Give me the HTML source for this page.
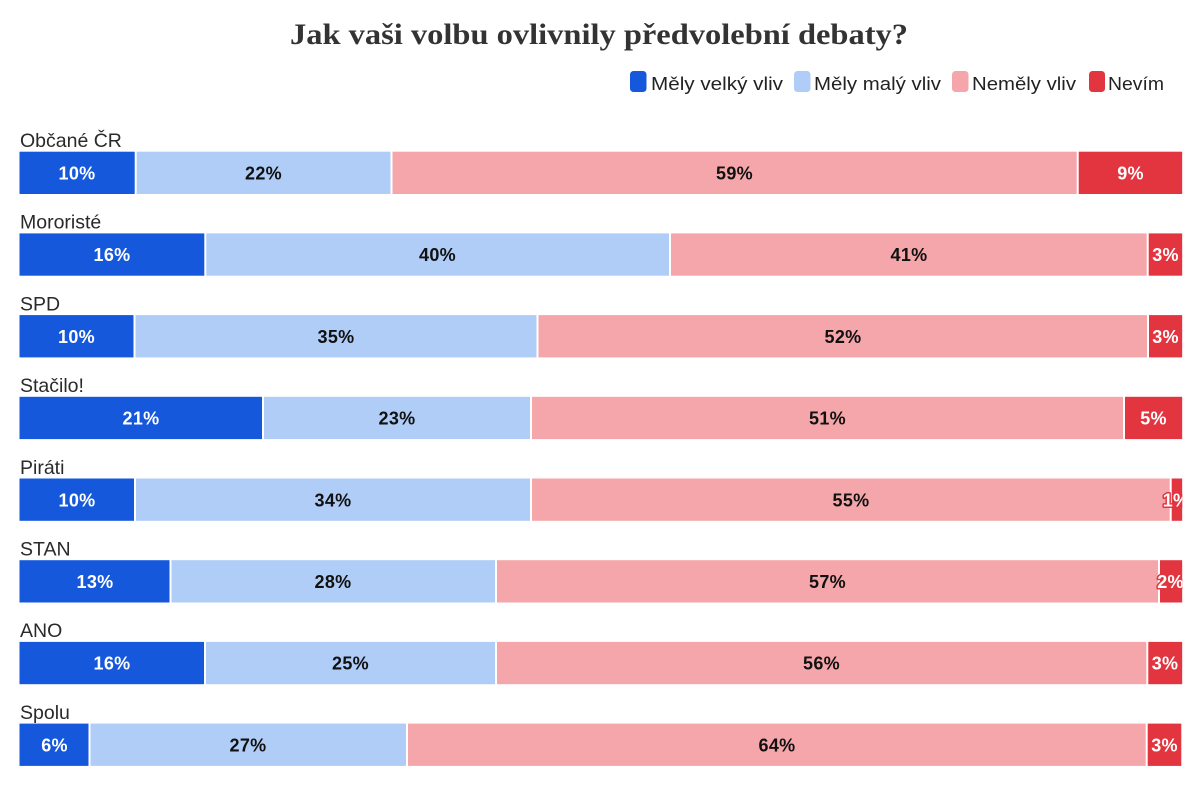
<!DOCTYPE html>
<html>
<head>
<meta charset="utf-8">
<style>
html,body{margin:0;padding:0;background:#fff;}
svg{display:block;}
.lab{font-family:"Liberation Sans",sans-serif;font-size:19.5px;fill:#2a2a2a;}
.leg{font-family:"Liberation Sans",sans-serif;font-size:18.5px;fill:#222;}
.pv{font-family:"Liberation Sans",sans-serif;font-size:18px;font-weight:bold;text-anchor:middle;letter-spacing:0.3px;}
.w{fill:#fff;}
.k{fill:#111;}
.r{fill:#fff;stroke:#e2353f;stroke-width:3px;paint-order:stroke;stroke-linejoin:round;}
</style>
</head>
<body>
<svg width="1200" height="800" viewBox="0 0 1200 800" xmlns="http://www.w3.org/2000/svg">
<defs>
<clipPath id="c"><rect x="0" y="0" width="1182.3" height="800"/></clipPath>
</defs>
<text x="599" y="44" text-anchor="middle" font-family="'Liberation Serif',serif" font-weight="bold" font-size="30" fill="#333" textLength="618" lengthAdjust="spacingAndGlyphs">Jak vaši volbu ovlivnily předvolební debaty?</text>

<rect x="630" y="71" width="16.5" height="21" rx="3.5" fill="#1558dc"/>
<text class="leg" x="651" y="90" textLength="132" lengthAdjust="spacingAndGlyphs">Měly velký vliv</text>
<rect x="794" y="71" width="16.5" height="21" rx="3.5" fill="#afcdf7"/>
<text class="leg" x="814" y="90" textLength="127" lengthAdjust="spacingAndGlyphs">Měly malý vliv</text>
<rect x="952" y="71" width="16.5" height="21" rx="3.5" fill="#f5a6aa"/>
<text class="leg" x="972" y="90" textLength="104" lengthAdjust="spacingAndGlyphs">Neměly vliv</text>
<rect x="1089" y="71" width="16" height="21" rx="3.5" fill="#e2353f"/>
<text class="leg" x="1108" y="90" textLength="56" lengthAdjust="spacingAndGlyphs">Nevím</text>

<g id="bars" clip-path="url(#c)">
<!-- Row 1 -->
<text class="lab" x="20" y="147">Občané ČR</text>
<rect x="19.5" y="151.7" width="115.2" height="42.3" fill="#1558dc"/>
<rect x="136.7" y="151.7" width="253.8" height="42.3" fill="#afcdf7"/>
<rect x="392.5" y="151.7" width="684.2" height="42.3" fill="#f5a6aa"/>
<rect x="1078.7" y="151.7" width="103.6" height="42.3" fill="#e2353f"/>
<text class="pv w" x="77" y="179.5">10%</text>
<text class="pv k" x="263.5" y="179.5">22%</text>
<text class="pv k" x="734.5" y="179.5">59%</text>
<text class="pv r" x="1130.5" y="179.5">9%</text>

<!-- Row 2 -->
<text class="lab" x="20" y="228.7">Mororisté</text>
<rect x="19.5" y="233.4" width="184.8" height="42.3" fill="#1558dc"/>
<rect x="206.3" y="233.4" width="462.7" height="42.3" fill="#afcdf7"/>
<rect x="671" y="233.4" width="475.7" height="42.3" fill="#f5a6aa"/>
<rect x="1148.7" y="233.4" width="33.6" height="42.3" fill="#e2353f"/>
<text class="pv w" x="112" y="261.2">16%</text>
<text class="pv k" x="437.5" y="261.2">40%</text>
<text class="pv k" x="909" y="261.2">41%</text>
<text class="pv r" x="1165.5" y="261.2">3%</text>

<!-- Row 3 -->
<text class="lab" x="20" y="310.4">SPD</text>
<rect x="19.5" y="315.1" width="114" height="42.3" fill="#1558dc"/>
<rect x="135.5" y="315.1" width="401" height="42.3" fill="#afcdf7"/>
<rect x="538.5" y="315.1" width="608.5" height="42.3" fill="#f5a6aa"/>
<rect x="1149" y="315.1" width="33.3" height="42.3" fill="#e2353f"/>
<text class="pv w" x="76.5" y="342.9">10%</text>
<text class="pv k" x="336" y="342.9">35%</text>
<text class="pv k" x="843" y="342.9">52%</text>
<text class="pv r" x="1165.5" y="342.9">3%</text>

<!-- Row 4 -->
<text class="lab" x="20" y="392.1">Stačilo!</text>
<rect x="19.5" y="396.8" width="242.5" height="42.3" fill="#1558dc"/>
<rect x="264" y="396.8" width="266" height="42.3" fill="#afcdf7"/>
<rect x="532" y="396.8" width="591" height="42.3" fill="#f5a6aa"/>
<rect x="1125" y="396.8" width="57.3" height="42.3" fill="#e2353f"/>
<text class="pv w" x="141" y="424.6">21%</text>
<text class="pv k" x="397" y="424.6">23%</text>
<text class="pv k" x="827.5" y="424.6">51%</text>
<text class="pv r" x="1153.5" y="424.6">5%</text>

<!-- Row 5 -->
<text class="lab" x="20" y="473.8">Piráti</text>
<rect x="19.5" y="478.5" width="114.5" height="42.3" fill="#1558dc"/>
<rect x="136" y="478.5" width="394" height="42.3" fill="#afcdf7"/>
<rect x="532" y="478.5" width="637.7" height="42.3" fill="#f5a6aa"/>
<rect x="1171.7" y="478.5" width="10.6" height="42.3" fill="#e2353f"/>
<text class="pv w" x="77" y="506.3">10%</text>
<text class="pv k" x="333" y="506.3">34%</text>
<text class="pv k" x="851" y="506.3">55%</text>
<text class="pv r" x="1176" y="506.3">1%</text>

<!-- Row 6 -->
<text class="lab" x="20" y="555.5">STAN</text>
<rect x="19.5" y="560.2" width="150" height="42.3" fill="#1558dc"/>
<rect x="171.5" y="560.2" width="323.5" height="42.3" fill="#afcdf7"/>
<rect x="497" y="560.2" width="661" height="42.3" fill="#f5a6aa"/>
<rect x="1160" y="560.2" width="22.3" height="42.3" fill="#e2353f"/>
<text class="pv w" x="95" y="588">13%</text>
<text class="pv k" x="333" y="588">28%</text>
<text class="pv k" x="827.5" y="588">57%</text>
<text class="pv r" x="1170.5" y="588">2%</text>

<!-- Row 7 -->
<text class="lab" x="20" y="637.2">ANO</text>
<rect x="19.5" y="641.9" width="184.5" height="42.3" fill="#1558dc"/>
<rect x="206" y="641.9" width="289" height="42.3" fill="#afcdf7"/>
<rect x="497" y="641.9" width="649.3" height="42.3" fill="#f5a6aa"/>
<rect x="1148.3" y="641.9" width="34" height="42.3" fill="#e2353f"/>
<text class="pv w" x="112" y="669.7">16%</text>
<text class="pv k" x="350.5" y="669.7">25%</text>
<text class="pv k" x="821.5" y="669.7">56%</text>
<text class="pv r" x="1165" y="669.7">3%</text>

<!-- Row 8 -->
<text class="lab" x="20" y="718.9">Spolu</text>
<rect x="19.5" y="723.6" width="69" height="42.3" fill="#1558dc"/>
<rect x="90.5" y="723.6" width="315.5" height="42.3" fill="#afcdf7"/>
<rect x="408" y="723.6" width="737.7" height="42.3" fill="#f5a6aa"/>
<rect x="1147.7" y="723.6" width="33.6" height="42.3" fill="#e2353f"/>
<text class="pv w" x="54.5" y="751.4">6%</text>
<text class="pv k" x="248" y="751.4">27%</text>
<text class="pv k" x="777" y="751.4">64%</text>
<text class="pv r" x="1164.5" y="751.4">3%</text>
</g>
</svg>
</body>
</html>
